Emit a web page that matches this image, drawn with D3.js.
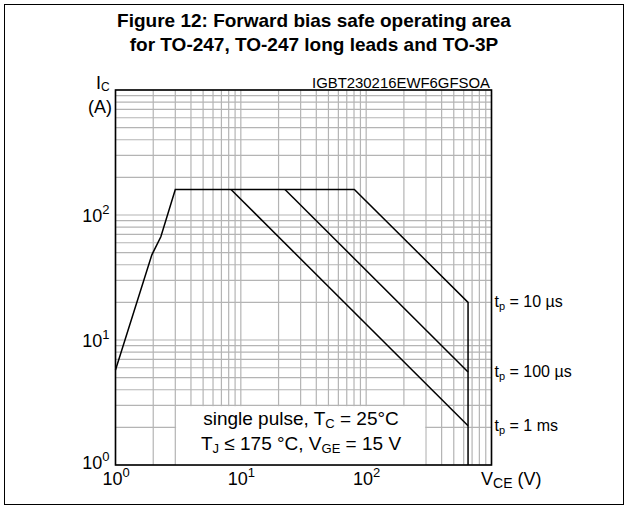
<!DOCTYPE html>
<html><head><meta charset="utf-8">
<script src="https://cdn.jsdelivr.net/npm/d3@7"></script>
<style>
body{margin:0;background:#fff;}
svg text{font-family:"Liberation Sans",Arial,sans-serif;fill:#000;}
</style></head>
<body><svg id="c" width="628" height="509"></svg>
<script>
// ---- data ----
const titleLines = ["Figure 12: Forward bias safe operating area", "for TO-247, TO-247 long leads and TO-3P"];
const chartCode = "IGBT230216EWF6GFSOA";
const xDomain = [1, 1000];
const yDomain = [1, 1000];
const decadeTicks = [1, 10, 100];
const tickExponents = ["0", "1", "2"];
// rising limit (V_CE, I_C)
const rampV = [1, 1.95, 2.3, 3];
const rampI = [5.75, 48, 67, 160];
const currentLimit = 160;      // A, flat limit
const maxVoltage = 650;        // V, vertical limit
const pulseLabels = ["10 µs", "100 µs", "1 ms"];
const pulseBreakV = [80.5, 22.5, 8.35];   // start of diagonal on flat line
const pulseEndI = [20, 5.55, 2.06];       // current at max voltage
const noteBoxV = [3, 300];
const noteBoxI = [1, 3];

// ---- drawing ----
const svg = d3.select("#c");
svg.append("rect").attr("x",4.5).attr("y",4.5).attr("width",619).attr("height",500)
  .attr("fill","none").attr("stroke","#000").attr("stroke-width",1);

svg.selectAll("text.title").data(titleLines).join("text")
  .attr("x",314).attr("y",(d,i)=>27+i*24).attr("text-anchor","middle")
  .attr("font-size",19).attr("font-weight","bold").text(d=>d);

const x = d3.scaleLog().domain(xDomain).range([115.5, 491.5]);
const y = d3.scaleLog().domain(yDomain).range([465, 90]);

const g = svg.append("g");
// grid
g.selectAll("line.vg").data(x.ticks()).join("line")
  .attr("x1",d=>x(d)).attr("x2",d=>x(d)).attr("y1",y(yDomain[0])).attr("y2",y(yDomain[1]))
  .attr("stroke","#b4b4b4").attr("stroke-width",1.2);
g.selectAll("line.hg").data(y.ticks()).join("line")
  .attr("y1",d=>y(d)).attr("y2",d=>y(d)).attr("x1",x(xDomain[0])).attr("x2",x(xDomain[1]))
  .attr("stroke","#b4b4b4").attr("stroke-width",1.2);

// note box (hides grid)
g.append("rect").attr("x",x(noteBoxV[0])+0.8).attr("y",y(noteBoxI[1])+0.8)
  .attr("width",x(noteBoxV[1])-x(noteBoxV[0])-1.6).attr("height",y(noteBoxI[0])-y(noteBoxI[1])-0.8)
  .attr("fill","#fff");

// frame
g.append("rect").attr("x",x(xDomain[0])).attr("y",y(yDomain[1]))
  .attr("width",x(xDomain[1])-x(xDomain[0])).attr("height",y(yDomain[0])-y(yDomain[1]))
  .attr("fill","none").attr("stroke","#000").attr("stroke-width",1.6);

// axes
const xAxis = d3.axisBottom(x).tickValues(decadeTicks).tickSize(0).tickFormat("");
const xa = svg.append("g").attr("transform",`translate(0,${y(yDomain[0])})`).call(xAxis);
xa.select(".domain").remove();
xa.selectAll(".tick").each(function(d,i){
  const t = d3.select(this).append("text").attr("y",20).attr("text-anchor","middle").attr("font-size",18);
  t.append("tspan").text("10");
  t.append("tspan").attr("dy",-8).attr("font-size",13).text(tickExponents[i]);
});
const yAxis = d3.axisLeft(y).tickValues(decadeTicks).tickSize(0).tickFormat("");
const ya = svg.append("g").attr("transform",`translate(${x(xDomain[0])},0)`).call(yAxis);
ya.select(".domain").remove();
ya.selectAll(".tick").each(function(d,i){
  const t = d3.select(this).append("text").attr("x",-6).attr("y",i===0?3:6).attr("text-anchor","end").attr("font-size",18);
  t.append("tspan").text("10");
  t.append("tspan").attr("dy",-8).attr("font-size",13).text(tickExponents[i]);
});

// curves
const line = d3.line().x(d=>x(d[0])).y(d=>y(d[1]));
const ramp = rampV.map((v,i)=>[v, rampI[i]]);
const outline = ramp.concat([[pulseBreakV[0], currentLimit],[maxVoltage, pulseEndI[0]],[maxVoltage, yDomain[0]]]);
g.append("path").attr("d",line(outline)).attr("fill","none").attr("stroke","#000").attr("stroke-width",1.5);
pulseBreakV.slice(1).forEach((v,i)=>{
  g.append("path").attr("d",line([[v,currentLimit],[maxVoltage,pulseEndI[i+1]]]))
   .attr("fill","none").attr("stroke","#000").attr("stroke-width",1.5);
});

// pulse labels
pulseLabels.forEach((lab,i)=>{
  const t = svg.append("text").attr("x",x(xDomain[1])+3).attr("y",y(pulseEndI[i])+5).attr("font-size",16);
  t.append("tspan").text("t");
  t.append("tspan").attr("dy",3).attr("font-size",11).text("p");
  t.append("tspan").attr("dy",-3).text(" = "+lab);
});

// note text
const n1 = svg.append("text").attr("x",301).attr("y",425).attr("text-anchor","middle").attr("font-size",19);
n1.append("tspan").text("single pulse, T");
n1.append("tspan").attr("dy",3).attr("font-size",13).text("C");
n1.append("tspan").attr("dy",-3).text(" = 25°C");
const n2 = svg.append("text").attr("x",301).attr("y",450).attr("text-anchor","middle").attr("font-size",19);
n2.append("tspan").text("T");
n2.append("tspan").attr("dy",3).attr("font-size",13).text("J");
n2.append("tspan").attr("dy",-3).text(" ≤ 175 °C, V");
n2.append("tspan").attr("dy",3).attr("font-size",13).text("GE");
n2.append("tspan").attr("dy",-3).text(" = 15 V");

// axis titles
const yt = svg.append("text").attr("x",96).attr("y",89).attr("font-size",18);
yt.append("tspan").text("I");
yt.append("tspan").attr("dy",2).attr("font-size",12).text("C");
svg.append("text").attr("x",112).attr("y",113).attr("text-anchor","end").attr("font-size",18).text("(A)");
const xt = svg.append("text").attr("x",481).attr("y",485).attr("font-size",18);
xt.append("tspan").text("V");
xt.append("tspan").attr("dy",3).attr("font-size",14).text("CE");
xt.append("tspan").attr("dy",-3).text(" (V)");

svg.append("text").attr("x",490).attr("y",88).attr("text-anchor","end").attr("font-size",14)
  .attr("textLength",178).attr("lengthAdjust","spacingAndGlyphs").text(chartCode);
</script></body></html>
